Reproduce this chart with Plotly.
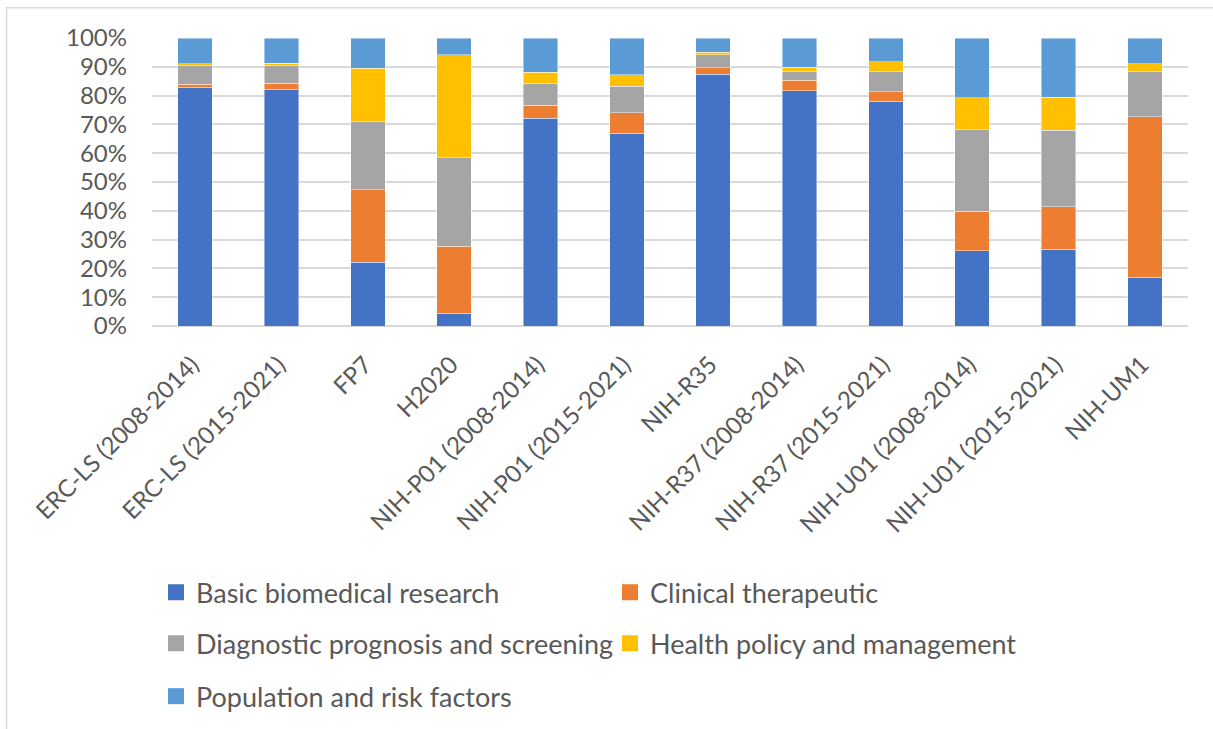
import plotly.graph_objects as go

categories = ["ERC-LS (2008-2014)", "ERC-LS (2015-2021)", "FP7", "H2020",
              "NIH-P01 (2008-2014)", "NIH-P01 (2015-2021)", "NIH-R35",
              "NIH-R37 (2008-2014)", "NIH-R37 (2015-2021)",
              "NIH-U01 (2008-2014)", "NIH-U01 (2015-2021)", "NIH-UM1"]

basic = [82.9, 82.0, 22.2, 4.5, 72.1, 66.9, 87.5, 81.6, 78.0, 26.1, 26.7, 17.0]
clinical = [1.0, 2.3, 25.1, 23.2, 4.5, 7.1, 2.2, 3.7, 3.3, 13.8, 14.7, 55.6]
diagnostic = [6.6, 6.2, 23.8, 30.8, 7.7, 9.2, 4.4, 2.9, 6.9, 28.2, 26.5, 15.6]
health = [0.6, 0.8, 18.4, 35.6, 3.8, 4.1, 1.0, 1.7, 3.6, 11.2, 11.6, 2.9]
population = [8.9, 8.7, 10.5, 5.9, 11.9, 12.7, 4.9, 10.1, 8.2, 20.7, 20.5, 8.9]

series_names = ["Basic biomedical research", "Clinical therapeutic",
                "Diagnostic prognosis and screening", "Health policy and management",
                "Population and risk factors"]
series_values = [basic, clinical, diagnostic, health, population]
colors = ["#4472C4", "#ED7D31", "#A5A5A5", "#FFC000", "#5B9BD5"]

y_ticks = [0, 10, 20, 30, 40, 50, 60, 70, 80, 90, 100]

FONT = "Lato"
TXT = "#595959"

fig = go.Figure()
legend_ids = ["legend", "legend2", "legend3", "legend4", "legend5"]
for name, vals, col, lg in zip(series_names, series_values, colors, legend_ids):
    fig.add_trace(go.Bar(x=categories, y=vals, name=name, marker_color=col,
                         marker_line=dict(width=0.8, color="rgba(255,255,255,0.55)"),
                         legendgroup=name, showlegend=False))
    fig.add_trace(go.Scatter(x=[None], y=[None], mode="markers", name=name,
                             marker=dict(symbol="square", size=16, color=col),
                             legendgroup=name, legend=lg, showlegend=True))

H = 288.3
W = 1036.0
def px_y(p):
    return (326 - p) / H
def px_x(p):
    return (p - 152) / W

left_x = px_x(156)
right_x = px_x(610)
rows = [593, 644, 697]
positions = [(left_x, rows[0]), (right_x, rows[0]), (left_x, rows[1]), (right_x, rows[1]), (left_x, rows[2])]

layout_legends = {}
for lg, (lx, ry) in zip(legend_ids, positions):
    layout_legends[lg] = dict(x=lx, y=px_y(ry), xanchor="left", yanchor="middle",
                              font=dict(family=FONT, size=27, color=TXT),
                              bgcolor="rgba(0,0,0,0)", borderwidth=0)

fig.update_layout(
    barmode="stack",
    bargap=0.6,
    width=1213, height=729,
    margin=dict(l=152, r=25, t=38, b=403, autoexpand=False),
    paper_bgcolor="white", plot_bgcolor="white",
    font=dict(family=FONT, size=24, color=TXT),
    **layout_legends,
    xaxis=dict(type="category", tickangle=-45, showgrid=False, showline=False,
               ticks="", ticklabelstandoff=19, ticklabelshift=-3,
               tickfont=dict(family=FONT, size=24, color=TXT)),
    yaxis=dict(range=[0, 100], tickvals=y_ticks, ticktext=[f"{v}%" for v in y_ticks],
               showgrid=True, gridcolor="#D9D9D9", gridwidth=1.5,
               zeroline=True, zerolinecolor="#D9D9D9", zerolinewidth=1.5,
               showline=False, ticks="", ticklabelstandoff=24,
               tickfont=dict(family=FONT, size=24, color=TXT)),
    shapes=[dict(type="rect", xref="paper", yref="paper",
                 x0=px_x(6.5), x1=px_x(1240), y0=px_y(760), y1=px_y(7.5),
                 line=dict(color="#D9D9D9", width=1.5), fillcolor="rgba(0,0,0,0)", layer="below")],
)

fig.write_html("out.html", config={"displayModeBar": False},
               post_script="document.body.style.margin='0';")
